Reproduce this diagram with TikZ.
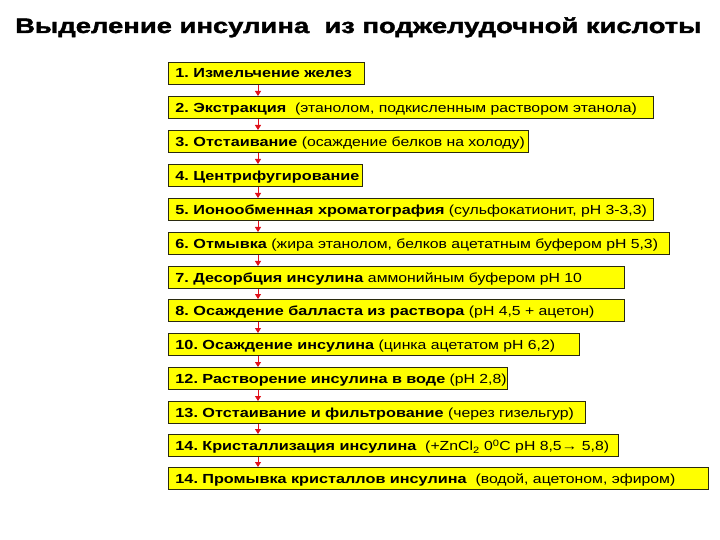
\documentclass[tikz,border=0pt]{standalone}
\usepackage{fontspec}
\setmainfont{Liberation Sans}[FakeStretch=1.2, BoldFeatures={FakeStretch=1.235}]
\newfontfamily\titlefont{Liberation Sans Bold}[FakeStretch=1.31, FakeBold=1.8]
\usetikzlibrary{arrows.meta}
\definecolor{boxyellow}{HTML}{FFFF00}
\definecolor{boxline}{HTML}{2A2A10}
\definecolor{arrred}{HTML}{E0101A}
\tikzset{
  stepbox/.style={draw=boxline, line width=0.9bp, fill=boxyellow, anchor=north west,
    minimum height=22bp, inner xsep=7bp, inner ysep=0bp, align=left,
    font=\fontsize{13.2}{15}\selectfont\frenchspacing, text depth=0bp},
  bw/.style={text width=#1bp-14bp},
  flowarrow/.style={draw=arrred, line width=0.8bp, -{Triangle[length=5bp,width=6bp]}},
}
\begin{document}
\begin{tikzpicture}[x=1bp,y=-1bp]
\useasboundingbox (0,0) rectangle (720,540);
\node[anchor=base west, font=\fontsize{21}{24}\titlefont, inner sep=0] (title) at (15,33) {Выделение инсулина \ из поджелудочной кислоты};
\node[stepbox, bw=196] (b1) at (168,62) {\mbox{\textbf{1. Измельчение желез}}};
\node[stepbox, bw=485] (b2) at (168,96) {\mbox{\textbf{2. Экстракция} \ (этанолом, подкисленным раствором этанола)}};
\node[stepbox, bw=360] (b3) at (168,130) {\mbox{\textbf{3. Отстаивание} (осаждение белков на холоду)}};
\node[stepbox, bw=194] (b4) at (168,164) {\mbox{\textbf{4. Центрифугирование}}};
\node[stepbox, bw=485] (b5) at (168,198) {\mbox{\textbf{5. Ионообменная хроматография} (сульфокатионит, рН 3-3,3)}};
\node[stepbox, bw=501] (b6) at (168,232) {\mbox{\textbf{6. Отмывка} (жира этанолом, белков ацетатным буфером рН 5,3)}};
\node[stepbox, bw=456] (b7) at (168,266) {\mbox{\textbf{7. Десорбция инсулина} аммонийным буфером рН 10}};
\node[stepbox, bw=456] (b8) at (168,299) {\mbox{\textbf{8. Осаждение балласта из раствора} (рН 4,5 + ацетон)}};
\node[stepbox, bw=411] (b10) at (168,333) {\mbox{\textbf{10. Осаждение инсулина} (цинка ацетатом рН 6,2)}};
\node[stepbox, bw=339] (b12) at (168,367) {\mbox{\textbf{12. Растворение инсулина в воде} (рН 2,8)}};
\node[stepbox, bw=417] (b13) at (168,401) {\mbox{\textbf{13. Отстаивание и фильтрование} (через гизельгур)}};
\node[stepbox, bw=450] (b14) at (168,434) {\mbox{\textbf{14. Кристаллизация инсулина} \ (+ZnCl\textsubscript{2} 0\textsuperscript{0}С рН 8,5→ 5,8)}};
\node[stepbox, bw=540] (b15) at (168,467) {\mbox{\textbf{14. Промывка кристаллов инсулина} \ (водой, ацетоном, эфиром)}};
\coordinate (ax) at (258,0);
\foreach \a/\b in {b1/b2,b2/b3,b3/b4,b4/b5,b5/b6,b6/b7,b7/b8,b8/b10,b10/b12,b12/b13,b13/b14,b14/b15}
  \draw[flowarrow] (\a.south -| ax) -- (\b.north -| ax);
\end{tikzpicture}
\end{document}
